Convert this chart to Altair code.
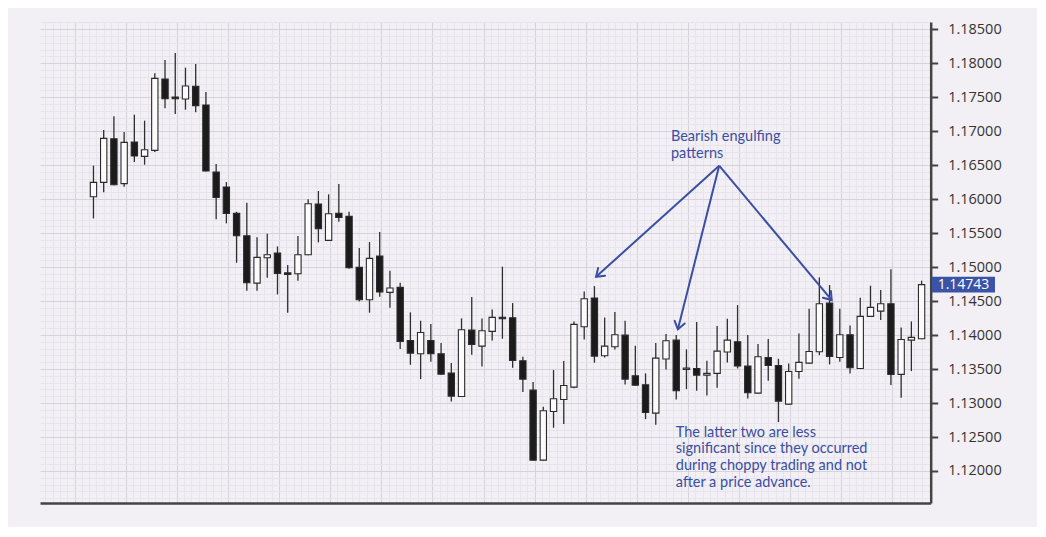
import altair as alt
import pandas as pd

# ---- candle data ----
opens = [1.16036, 1.16247, 1.16890, 1.16228, 1.16841, 1.16630, 1.16718, 1.17768, 1.17502, 1.17474,
         1.17660, 1.17386, 1.16399, 1.16179, 1.15791, 1.15462, 1.14765, 1.15138, 1.15207, 1.14915,
         1.14903, 1.15182, 1.15928, 1.15393, 1.15791, 1.15747, 1.14996, 1.14520, 1.15163, 1.14628,
         1.14702, 1.13921, 1.13725, 1.13921, 1.13725, 1.13440, 1.13097, 1.14073, 1.13838, 1.14054,
         1.14262, 1.14255, 1.13622, 1.13190, 1.12160, 1.12876, 1.13053, 1.13234, 1.14123, 1.14545,
         1.13696, 1.13828, 1.14000, 1.13401, 1.13269, 1.12852, 1.13647, 1.13925, 1.13494, 1.13509,
         1.13411, 1.13436, 1.13750, 1.13902, 1.13544, 1.13146, 1.13671, 1.13553, 1.12984, 1.13465,
         1.13588, 1.13754, 1.14470, 1.13671, 1.14005, 1.13509, 1.14275, 1.14353, 1.14461, 1.13421,
         1.13926, 1.13945]
highs = [1.16493, 1.17018, 1.17219, 1.16988, 1.17243, 1.17155, 1.17852, 1.18048, 1.18151, 1.17935,
         1.17989, 1.17577, 1.16517, 1.16252, 1.15815, 1.15948, 1.15438, 1.15492, 1.15305, 1.15030,
         1.15457, 1.15997, 1.16120, 1.16071, 1.16223, 1.15815, 1.15281, 1.15369, 1.15516, 1.14947,
         1.14770, 1.14334, 1.14211, 1.14162, 1.13882, 1.13588, 1.14245, 1.14559, 1.14245, 1.14378,
         1.15006, 1.14471, 1.13681, 1.13308, 1.12945, 1.13485, 1.13617, 1.14201, 1.14643, 1.14721,
         1.14260, 1.14338, 1.14211, 1.13843, 1.13436, 1.13882, 1.14015, 1.14000, 1.13789, 1.14191,
         1.13622, 1.14132, 1.14240, 1.14441, 1.14000, 1.13867, 1.13941, 1.13651, 1.13583, 1.14024,
         1.14387, 1.14849, 1.14736, 1.14387, 1.14142, 1.14549, 1.14726, 1.14662, 1.14967, 1.14113,
         1.14201, 1.14800]
lows = [1.15717, 1.16100, 1.16205, 1.16183, 1.16547, 1.16507, 1.16694, 1.17337, 1.17253, 1.17317,
        1.17278, 1.16408, 1.15703, 1.15644, 1.15065, 1.14652, 1.14652, 1.14844, 1.14599, 1.14329,
        1.14800, 1.15175, 1.15364, 1.15388, 1.15668, 1.14976, 1.14495, 1.14329, 1.14564, 1.14402,
        1.13794, 1.13563, 1.13352, 1.13607, 1.13411, 1.13023, 1.13092, 1.13710, 1.13539, 1.13921,
        1.13946, 1.13519, 1.13161, 1.12155, 1.12155, 1.12636, 1.12690, 1.13219, 1.13936, 1.13593,
        1.13671, 1.13789, 1.13274, 1.13254, 1.12763, 1.12680, 1.13494, 1.13053, 1.13205, 1.13180,
        1.13112, 1.13225, 1.13598, 1.13509, 1.13068, 1.13140, 1.13328, 1.12720, 1.12978, 1.13357,
        1.13583, 1.13705, 1.13568, 1.13607, 1.13436, 1.13504, 1.14270, 1.14221, 1.13264, 1.13077,
        1.13470, 1.13940]
closes = [1.16247, 1.16895, 1.16213, 1.16836, 1.16635, 1.16728, 1.17778, 1.17479, 1.17478, 1.17665,
          1.17376, 1.16414, 1.16026, 1.15791, 1.15462, 1.14770, 1.15143, 1.15182, 1.14908, 1.14893,
          1.15182, 1.15933, 1.15565, 1.15786, 1.15732, 1.14991, 1.14520, 1.15128, 1.14633, 1.14692,
          1.13907, 1.13735, 1.14039, 1.13725, 1.13426, 1.13102, 1.14078, 1.13862, 1.14064, 1.14260,
          1.14240, 1.13627, 1.13352, 1.12160, 1.12886, 1.13063, 1.13259, 1.14157, 1.14535, 1.13691,
          1.13838, 1.14005, 1.13352, 1.13264, 1.12861, 1.13661, 1.13916, 1.13180, 1.13514, 1.13411,
          1.13436, 1.13764, 1.13926, 1.13544, 1.13151, 1.13681, 1.13553, 1.13028, 1.13465, 1.13598,
          1.13759, 1.14461, 1.13686, 1.14005, 1.13519, 1.14275, 1.14407, 1.14461, 1.13421, 1.13936,
          1.13966, 1.14743]

# ---- annotation content ----
ann_title = "Bearish engulfing\npatterns"
ann_title_x = [56.48]
ann_title_y = [1.16851]
ann_note = ("The latter two are less\nsignificant since they occurred\n"
            "during choppy trading and not\nafter a price advance.")
ann_note_x = [56.96]
ann_note_y = [1.12503]
arrow_from_x = [61.2, 61.2, 61.2]
arrow_from_y = [1.16492, 1.16492, 1.16492]
arrow_to_x = [49.16, 57.16, 72.21]
arrow_to_y = [1.14858, 1.14084, 1.14515]
arrow_angle = [48.2, 14.3, 319.7]

BLUE = "#3b4ea3"
BG = "#f2f0f4"

df = pd.DataFrame({"i": list(range(len(opens))), "open": opens, "high": highs,
                   "low": lows, "close": closes})
df["top"] = df[["open", "close"]].max(axis=1)
df["bot"] = df[["open", "close"]].min(axis=1)
df["dir"] = ["up" if c >= o else "down" for o, c in zip(opens, closes)]

xs = alt.Scale(domain=[-4.74, 81.4], nice=False, zero=False)
ys = alt.Scale(domain=[1.11529, 1.18607], nice=False, zero=False)

fine_y = [round(1.116 + 0.001 * k, 3) for k in range(71)]
fine_x = [round(-1.85 + 5 / 7 * k, 4) for k in range(-4, 117)]
major_y = "abs(datum.value*200 - round(datum.value*200)) < 0.001"
major_x = "abs((datum.value + 1.85)/5 - round((datum.value + 1.85)/5)) < 0.01"

xaxis = alt.Axis(orient="bottom", values=fine_x, title=None, labels=False, ticks=False,
                 domain=True, domainColor="#444444", domainWidth=2.5,
                 grid=True, gridWidth=1,
                 gridColor={"condition": {"test": major_x, "value": "#d5d2da"}, "value": "#e7e4eb"})
yaxis = alt.Axis(orient="right", values=fine_y, title=None,
                 labelExpr=f"{major_y} ? format(datum.value, '.5f') : ''",
                 labelFont="Open Sans", labelFontSize=14.5, labelColor="#333333",
                 labelPadding=10, labelOverlap=False, labelFlush=False, labelBound=False,
                 tickSize=7, tickWidth=2, tickColor="#444444",
                 tickOpacity={"condition": {"test": major_y, "value": 1}, "value": 0},
                 domainColor="#444444", domainWidth=2.5,
                 grid=True, gridWidth=1,
                 gridColor={"condition": {"test": major_y, "value": "#d5d2da"}, "value": "#e7e4eb"})


def X(f):
    return alt.X(f, type="quantitative", scale=xs, axis=xaxis)


def Y(f):
    return alt.Y(f, type="quantitative", scale=ys, axis=yaxis)


base = alt.Chart(df)
wicks = base.mark_rule(color="#2e2e2e", strokeWidth=1.3).encode(
    x=X("i"), y=Y("low"), y2="high")
bodies = base.mark_bar(size=6.3, stroke="#2a2a2a", strokeWidth=1.1).encode(
    x=X("i"), y=Y("bot"), y2="top",
    color=alt.Color("dir:N", scale=alt.Scale(domain=["up", "down"], range=["#fbfbfb", "#1b1b1b"]),
                    legend=None))

arr_df = pd.DataFrame({"x0": arrow_from_x, "y0": arrow_from_y, "x1": arrow_to_x,
                       "y1": arrow_to_y, "a": arrow_angle})
arrows = alt.Chart(arr_df).mark_rule(color=BLUE, strokeWidth=2).encode(
    x=X("x0"), y=Y("y0"), x2="x1", y2="y1")
heads = alt.Chart(arr_df).mark_point(shape="M-0.7,-1L0,0L0.7,-1", filled=False, strokeWidth=2,
                                     size=220, color=BLUE, opacity=1, strokeCap="round",
                                     strokeJoin="miter").encode(
    x=X("x1"), y=Y("y1"), angle=alt.Angle("a:Q", scale=None))

title_df = pd.DataFrame({"x": ann_title_x, "y": ann_title_y, "t": [ann_title]})
title_txt = alt.Chart(title_df).mark_text(align="left", baseline="alphabetic", lineBreak="\n",
                                          lineHeight=16.5, font="Lato", fontSize=14.5,
                                          color=BLUE).encode(
    x=X("x"), y=Y("y"), text="t:N")
note_df = pd.DataFrame({"x": ann_note_x, "y": ann_note_y, "t": [ann_note]})
note_txt = alt.Chart(note_df).mark_text(align="left", baseline="alphabetic", lineBreak="\n",
                                        lineHeight=16.7, font="Lato", fontSize=14.5,
                                        color=BLUE).encode(
    x=X("x"), y=Y("y"), text="t:N")

tag_df = pd.DataFrame({"close": [closes[-1]]})
tag_box = alt.Chart(tag_df).mark_point(shape="M-1,-0.25L1,-0.25L1,0.25L-1,0.25Z", filled=True,
                                       size=3969, color="#3a53a6", opacity=1).encode(
    x=alt.value(923.5), y=Y("close"))
tag_txt = alt.Chart(tag_df).mark_text(font="Open Sans", fontSize=14, color="white",
                                      align="center", baseline="middle").encode(
    x=alt.value(923.5), y=Y("close"), text=alt.Text("close:Q", format=".5f"))

chart = alt.layer(wicks, bodies, arrows, heads, title_txt, note_txt, tag_box, tag_txt).properties(
    width=890.7, height=481,
    padding={"left": 32, "top": 14, "right": 106, "bottom": 24},
    autosize=alt.AutoSizeParams(type="none"),
    background=BG,
).configure_view(strokeWidth=0)

chart.save("out.html", embed_options={"renderer": "svg", "actions": False})
